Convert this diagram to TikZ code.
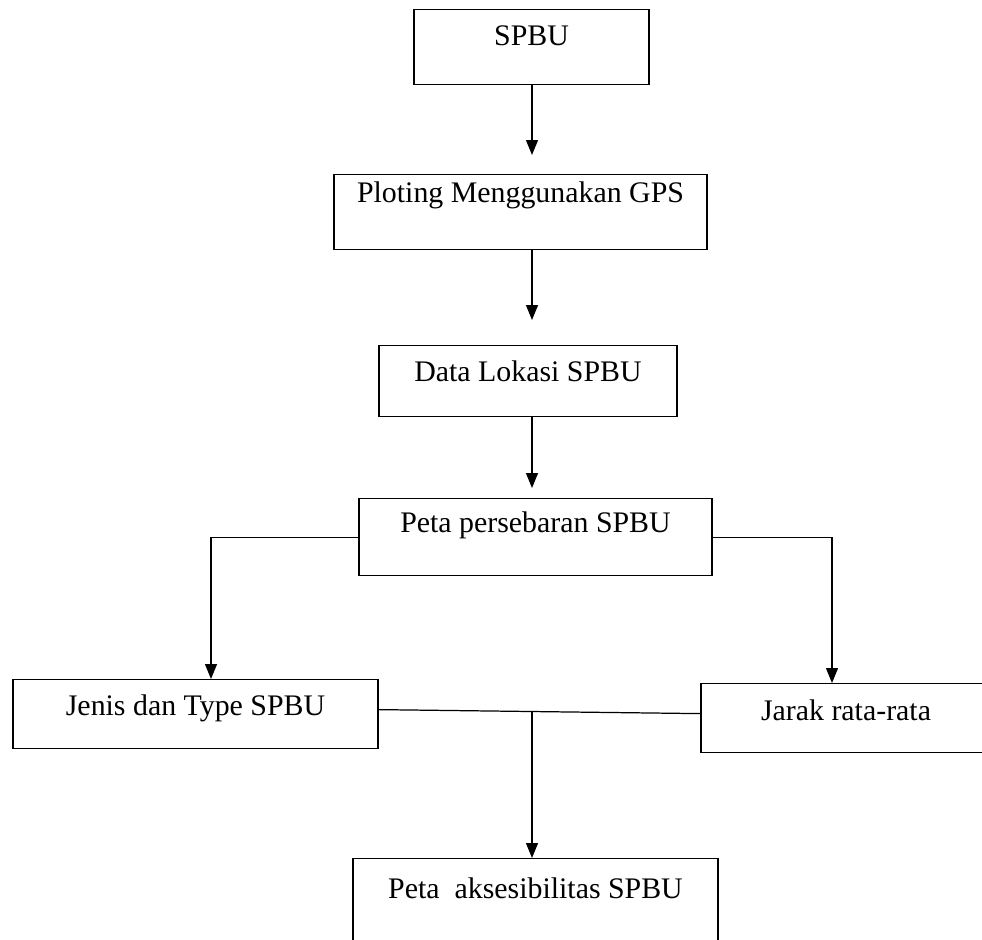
\documentclass[tikz,border=0pt]{standalone}
\usepackage{fontspec}
\setmainfont{Liberation Serif}
\usetikzlibrary{arrows.meta}
\begin{document}
\begin{tikzpicture}[x=0.02cm,y=-0.02cm,
	kotak/.style={draw, line width=0.7pt, anchor=north, inner sep=0pt, font=\fontsize{17}{20}\selectfont},
	panah/.style={line width=0.7pt, -{Triangle[width=0.24cm,length=0.3cm]}},
	garis/.style={line width=0.7pt}]
	\useasboundingbox (0,0) rectangle (982,939);
	\node[kotak, minimum width=4.70cm, text height=0.72cm, text depth=0.78cm] (spbu) at (531.5,9) {SPBU};
	\node[kotak, minimum width=7.46cm, text height=0.56cm, text depth=0.94cm] (ploting) at (520.5,174) {Ploting Menggunakan GPS};
	\node[kotak, minimum width=5.96cm, text height=0.72cm, text depth=0.70cm] (lokasi) at (528,345) {Data Lokasi SPBU};
	\node[kotak, minimum width=7.06cm, text height=0.68cm, text depth=0.86cm] (sebaran) at (535.5,498) {Peta persebaran SPBU};
	\node[kotak, minimum width=7.30cm, text height=0.72cm, text depth=0.66cm] (jenis) at (195.5,679) {Jenis dan Type SPBU};
	\node[kotak, minimum width=5.80cm, text height=0.74cm, text depth=0.64cm] (jarak) at (846,683) {Jarak rata-rata};
	\node[kotak, minimum width=7.30cm, text height=0.80cm, text depth=1.20cm] (akses) at (535.5,858) {Peta\ \ aksesibilitas SPBU};
	% titik bantu untuk garis
	\coordinate (tengah) at (532,0);
	\coordinate (kiri) at (211,0);
	\coordinate (kanan) at (832,0);
	\coordinate (temu) at (532,711);
	\draw[panah, shorten >=0.38cm] (spbu.south -| tengah) -- (ploting.north -| tengah);
	\draw[panah, shorten >=0.50cm] (ploting.south -| tengah) -- (lokasi.north -| tengah);
	\draw[panah, shorten >=0.20cm] (lokasi.south -| tengah) -- (sebaran.north -| tengah);
	\draw[panah] (sebaran.west) -| (kiri |- jenis.north);
	\draw[panah] (sebaran.east) -| (kanan |- jarak.north);
	\draw[garis] ([yshift=0.09cm]jenis.east) -- ([yshift=0.09cm]jarak.west);
	\draw[panah] (temu) -- (akses.north -| temu);
\end{tikzpicture}
\end{document}
